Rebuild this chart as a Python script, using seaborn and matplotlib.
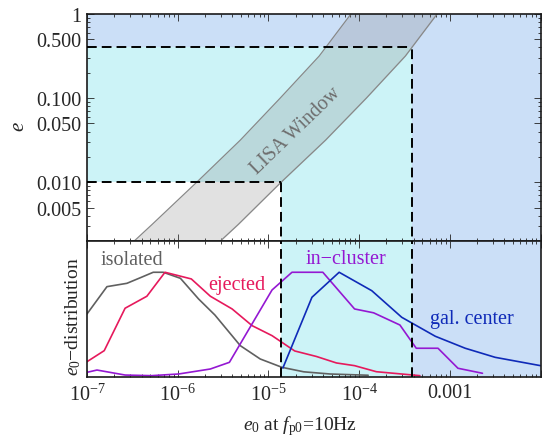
import matplotlib
matplotlib.use("Agg")
import matplotlib.pyplot as plt
import matplotlib.ticker as mticker
import numpy as np
import pandas as pd
import seaborn as sns

# distributions: log10(e0) of the polyline vertices and normalised heights
iso_logx = [-7.0, -6.78, -6.56, -6.40, -6.27, -6.16, -5.97, -5.77, -5.59, -5.31, -5.09, -4.85, -4.61, -4.32, -3.9]
iso_val = [0.60, 0.862, 0.894, 0.952, 1.0, 1.0, 0.942, 0.744, 0.59, 0.296, 0.168, 0.088, 0.045, 0.024, 0.012]
ej_logx = [-7.0, -6.81, -6.58, -6.34, -6.14, -5.85, -5.64, -5.40, -5.18, -4.96, -4.71, -4.47, -4.25, -4.05, -3.81, -3.33]
ej_val = [0.142, 0.248, 0.655, 0.770, 1.0, 0.936, 0.770, 0.648, 0.488, 0.392, 0.245, 0.192, 0.130, 0.104, 0.046, 0.008]
cl_logx = [-7.0, -6.89, -6.58, -6.29, -5.99, -5.64, -5.43, -4.96, -4.74, -4.40, -4.05, -3.84, -3.55, -3.37, -3.13, -2.91, -2.64]
cl_val = [0.040, 0.062, 0.014, 0.008, 0.024, 0.072, 0.136, 0.830, 1.0, 1.0, 0.648, 0.611, 0.494, 0.271, 0.271, 0.079, 0.031]
gc_logx = [-4.84, -4.52, -4.22, -3.86, -3.53, -3.16, -2.83, -2.50, -2.0]
gc_val = [0.082, 0.760, 1.0, 0.823, 0.568, 0.386, 0.271, 0.184, 0.104]

# LISA window band: log10(e) and log10(e0) of both edges
lisa_loge = [-2.75, -2.5, -2.0, -1.5, -1.0, -0.5, 0.0, 0.05]
lisa_left = [-6.53, -6.28, -5.79, -5.31, -4.87, -4.44, -4.09, -4.05]
lisa_right = [-5.58, -5.33, -4.86, -4.37, -3.92, -3.49, -3.14, -3.10]

# region boundaries
e_low, e_high = 0.01, 0.4
x_low, x_high = 1.37e-5, 3.8e-4
xmin, xmax = 1e-7, 1e-2
ymin, ymax = 0.002, 1.0

xtick_vals = [1e-7, 1e-6, 1e-5, 1e-4, 1e-3, 1e-2]
xtick_labels = [r"$10^{-7}$", r"$10^{-6}$", r"$10^{-5}$", r"$10^{-4}$", "0.001", ""]
ytick_vals = [0.005, 0.01, 0.05, 0.1, 0.5, 1.0]
ytick_labels = ["0.005", "0.010", "0.050", "0.100", "0.500", "1"]

names = ["isolated", "ejected", "in\u2212cluster", "gal. center"]
colors = ["#606060", "#e6195c", "#9418d2", "#0f2ab8"]
label_logx = [-6.51, -5.35, -4.15, -2.755]
label_y = [1.08, 0.84, 1.086, 0.511]

blue = "#cbdff7"
cyan = "#ccf3f7"

sns.set_style("ticks")
plt.rcParams["font.family"] = ["Liberation Serif", "DejaVu Serif"]
plt.rcParams["mathtext.fontset"] = "custom"
plt.rcParams["mathtext.rm"] = "Liberation Serif"
plt.rcParams["mathtext.it"] = "Liberation Serif:italic"

df = pd.concat([
    pd.DataFrame({"x": 10 ** np.array(lx), "v": v, "kind": n})
    for lx, v, n in zip([iso_logx, ej_logx, cl_logx, gc_logx],
                        [iso_val, ej_val, cl_val, gc_val], names)
])

fig = plt.figure(figsize=(5.43, 4.39), dpi=100)
W, H = 543, 439
ax1 = fig.add_axes([87 / W, 1 - 242 / H, 453.5 / W, 227 / H])
ax2 = fig.add_axes([87 / W, 1 - 377.5 / H, 453.5 / W, 135.5 / H], sharex=ax1)

# top panel
ax1.set_xscale("log")
ax1.set_yscale("log")
ax1.axhspan(e_high, 2, color=blue, lw=0, zorder=0)
ax1.axvspan(x_high, xmax, color=blue, lw=0, zorder=0)
ax1.fill_between([xmin, x_high], e_low, e_high, color=cyan, lw=0, zorder=0)
ax1.fill_between([x_low, x_high], 1e-3, e_low, color=cyan, lw=0, zorder=0)

le = 10 ** np.array(lisa_loge)
ll = 10 ** np.array(lisa_left)
lr = 10 ** np.array(lisa_right)
ax1.fill_betweenx(le, ll, lr, color="#7a7a7a", alpha=0.22, lw=0, zorder=1)
sns.lineplot(x=ll, y=le, sort=False, color="#888888", lw=0.9, ax=ax1, zorder=2)
sns.lineplot(x=lr, y=le, sort=False, color="#888888", lw=0.9, ax=ax1, zorder=2)

dash = (0, (5, 2.6))
ax1.plot([xmin, x_high], [e_high, e_high], color="k", lw=1.4, ls=dash, zorder=3)
ax1.plot([x_high, x_high], [1e-3, e_high], color="k", lw=1.4, ls=dash, zorder=3)
ax1.plot([xmin, x_low], [e_low, e_low], color="k", lw=1.4, ls=dash, zorder=3)
ax1.plot([x_low, x_low], [1e-3, e_low], color="k", lw=1.4, ls=dash, zorder=3)

ax1.text(10 ** -4.70, 10 ** -1.38, "LISA Window", rotation=44, ha="center", va="center",
         rotation_mode="anchor", color="#6e6e6e", fontsize=14.5, zorder=4)

ax1.set_xlim(xmin, xmax)
ax1.set_ylim(ymin, ymax)
ax1.set_yticks(ytick_vals, labels=ytick_labels)
ax1.yaxis.set_minor_locator(mticker.LogLocator(base=10, subs=np.arange(2, 10)))
ax1.yaxis.set_minor_formatter(mticker.NullFormatter())
ax1.set_xlabel("")
ax1.set_ylabel("")

# bottom panel
ax2.axvspan(x_low, x_high, color=cyan, lw=0, zorder=0)
ax2.axvspan(x_high, xmax, color=blue, lw=0, zorder=0)
ax2.axvline(x_low, color="k", lw=1.4, ls=dash, zorder=3)
ax2.axvline(x_high, color="k", lw=1.4, ls=dash, zorder=3)
sns.lineplot(data=df, x="x", y="v", hue="kind", palette=dict(zip(names, colors)),
             estimator=None, sort=False, lw=1.2, legend=False, ax=ax2, zorder=2)
for n, c, lx, ly in zip(names, colors, label_logx, label_y):
    ax2.text(10 ** lx, ly, n, color=c, ha="center", va="baseline", fontsize=14.5)

ax2.set_xlim(xmin, xmax)
ax2.set_ylim(0, 1.30)
ax2.set_yticks([])
ax2.set_xticks(xtick_vals, labels=xtick_labels)
ax2.xaxis.set_minor_locator(mticker.LogLocator(base=10, subs=np.arange(2, 10)))
ax2.xaxis.set_minor_formatter(mticker.NullFormatter())
ax2.set_xlabel("")
ax2.set_ylabel("")

for ax in (ax1, ax2):
    for s in ax.spines.values():
        s.set_linewidth(1.2)
        s.set_color("#1a1a1a")
        s.set_visible(True)
    ax.tick_params(which="both", direction="in", top=True, right=(ax is ax1),
                   labelsize=14.5, width=0.6, color="#222222", pad=5)
    ax.tick_params(which="major", length=5)
    ax.tick_params(which="minor", length=2.5)
ax1.tick_params(labelbottom=False)
ax1.tick_params(axis="y", pad=4)

fig.text(20 / W, 1 - 127 / H, r"$e$", rotation=90, ha="center", va="center", fontsize=15)
fig.text(73.5 / W, 1 - 317 / H, "$e_0$\u2212distribution", rotation=90, ha="center",
         va="center", fontsize=14)
fig.text(300 / W, 1 - 426 / H, r"$e_0$ at $f_{\rm p0}$=10Hz", ha="center", va="center",
         fontsize=14)

fig.savefig("out.png", dpi=100)
